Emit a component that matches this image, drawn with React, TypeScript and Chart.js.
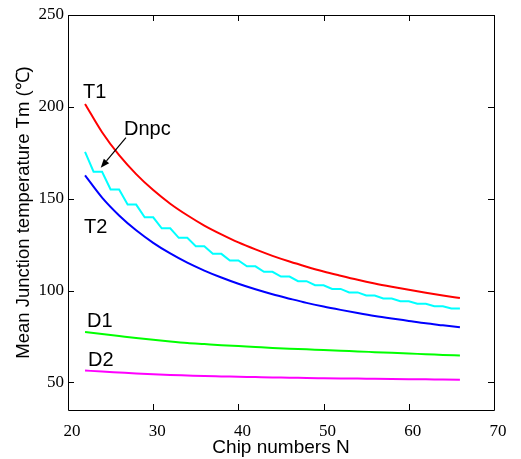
import { useEffect, useRef } from "react";
import { Chart, registerables } from "chart.js";

Chart.register(...registerables);

const WIDTH = 521;
const HEIGHT = 459;

// Chip counts used for the smooth curves
const chipsSmooth = [22, 24, 26, 28, 30, 32, 34, 36, 38, 40, 42, 44, 46, 48, 50, 52, 54, 56, 58, 60, 62, 64, 66];

const t1Temp = [201.6, 186.2, 173.7, 163.4, 154.7, 147.3, 141.0, 135.4, 130.6, 126.2, 122.4, 118.9, 115.8, 113.0, 110.4, 108.1, 105.9, 103.9, 102.1, 100.4, 98.8, 97.3, 95.9];
const t2Temp = [162.7, 150.6, 140.9, 132.8, 126.0, 120.2, 115.2, 110.9, 107.1, 103.7, 100.7, 98.0, 95.6, 93.3, 91.3, 89.5, 87.8, 86.2, 84.8, 83.5, 82.2, 81.1, 80.0];
const d1Temp = [77.5, 76.4, 75.3, 74.2, 73.2, 72.3, 71.5, 70.9, 70.3, 69.8, 69.3, 68.8, 68.4, 68.0, 67.6, 67.2, 66.9, 66.5, 66.1, 65.7, 65.4, 65.0, 64.7];
const d2Temp = [56.5, 55.9, 55.4, 54.9, 54.5, 54.1, 53.8, 53.5, 53.3, 53.1, 52.9, 52.7, 52.6, 52.4, 52.3, 52.2, 52.1, 52.0, 51.9, 51.8, 51.7, 51.6, 51.5];

// Dnpc is evaluated at every chip count (stepped curve)
const chipsAll = [22, 23, 24, 25, 26, 27, 28, 29, 30, 31, 32, 33, 34, 35, 36, 37, 38, 39, 40, 41, 42, 43, 44, 45, 46, 47, 48, 49, 50, 51, 52, 53, 54, 55, 56, 57, 58, 59, 60, 61, 62, 63, 64, 65, 66];
const dnpcTemp = [175.5, 164.7, 164.7, 155.0, 155.0, 146.8, 146.8, 139.9, 139.9, 133.9, 133.9, 128.7, 128.7, 124.1, 124.1, 120.0, 120.0, 116.4, 116.4, 113.2, 113.2, 110.2, 110.2, 107.6, 107.6, 105.1, 105.1, 102.9, 102.9, 100.9, 100.9, 99.0, 99.0, 97.3, 97.3, 95.7, 95.7, 94.2, 94.2, 92.8, 92.8, 91.5, 91.5, 90.2, 90.2];

const xTicks = [20, 30, 40, 50, 60, 70];
const yTicks = [50, 100, 150, 200, 250];

// Curve names placed next to the curves (data coordinates)
const curveLabels = [
  { text: "T1", n: 21.76, v: 207.6 },
  { text: "Dnpc", n: 26.57, v: 187.8 },
  { text: "T2", n: 21.88, v: 134.5 },
  { text: "D1", n: 22.23, v: 83.4 },
  { text: "D2", n: 22.35, v: 61.7 },
];
const arrowFrom = { n: 26.8, v: 183.2 };
const arrowTo = { n: 23.84, v: 166.8 };

const SANS = '"Liberation Sans", Arial, sans-serif';
const SERIF = '"Liberation Serif", "Times New Roman", serif';

const zip = (xs: number[], ys: number[]) => xs.map((x, i) => ({ x, y: ys[i] }));

export default function App() {
  const canvasRef = useRef<HTMLCanvasElement>(null);

  useEffect(() => {
    const canvas = canvasRef.current;
    if (!canvas) return;

    // Box around the plot with inward tick marks on all four sides
    const framePlugin = {
      id: "frame",
      afterDraw(chart: any) {
        const { ctx, chartArea, scales } = chart;
        const { left, right, top, bottom } = chartArea;
        const len = 6;
        ctx.save();
        ctx.strokeStyle = "#000";
        ctx.lineWidth = 1;
        ctx.beginPath();
        ctx.rect(Math.round(left) + 0.5, Math.round(top) + 0.5, Math.round(right - left), Math.round(bottom - top));
        for (const v of xTicks) {
          const px = Math.round(scales.x.getPixelForValue(v)) + 0.5;
          ctx.moveTo(px, bottom);
          ctx.lineTo(px, bottom - len);
          ctx.moveTo(px, top);
          ctx.lineTo(px, top + len);
        }
        for (const v of yTicks) {
          const py = Math.round(scales.y.getPixelForValue(v)) + 0.5;
          ctx.moveTo(left, py);
          ctx.lineTo(left + len, py);
          ctx.moveTo(right, py);
          ctx.lineTo(right - len, py);
        }
        ctx.stroke();
        ctx.restore();
      },
    };

    // Curve names and the arrow pointing at the Dnpc curve
    const notesPlugin = {
      id: "notes",
      afterDatasetsDraw(chart: any) {
        const { ctx, scales } = chart;
        const { x, y } = scales;
        ctx.save();
        ctx.fillStyle = "#000";
        ctx.strokeStyle = "#000";
        ctx.font = `20px ${SANS}`;
        ctx.textBaseline = "middle";
        ctx.textAlign = "left";
        for (const l of curveLabels) {
          ctx.fillText(l.text, x.getPixelForValue(l.n), y.getPixelForValue(l.v));
        }
        const x0 = x.getPixelForValue(arrowFrom.n);
        const y0 = y.getPixelForValue(arrowFrom.v);
        const x1 = x.getPixelForValue(arrowTo.n);
        const y1 = y.getPixelForValue(arrowTo.v);
        const ang = Math.atan2(y1 - y0, x1 - x0);
        const head = 9;
        const half = 3.5;
        const bx = x1 - head * Math.cos(ang);
        const by = y1 - head * Math.sin(ang);
        ctx.lineWidth = 1.2;
        ctx.beginPath();
        ctx.moveTo(x0, y0);
        ctx.lineTo(bx, by);
        ctx.stroke();
        ctx.beginPath();
        ctx.moveTo(x1, y1);
        ctx.lineTo(bx + half * Math.sin(ang), by - half * Math.cos(ang));
        ctx.lineTo(bx - half * Math.sin(ang), by + half * Math.cos(ang));
        ctx.closePath();
        ctx.fill();
        ctx.restore();
      },
    };

    const smooth = { tension: 0.4, cubicInterpolationMode: "monotone" as const };

    const chart = new Chart(canvas, {
      type: "line",
      data: {
        datasets: [
          { label: "T1", data: zip(chipsSmooth, t1Temp), borderColor: "#ff0000", ...smooth },
          { label: "Dnpc", data: zip(chipsAll, dnpcTemp), borderColor: "#00ffff", tension: 0 },
          { label: "T2", data: zip(chipsSmooth, t2Temp), borderColor: "#0000ff", ...smooth },
          { label: "D1", data: zip(chipsSmooth, d1Temp), borderColor: "#00ff00", ...smooth },
          { label: "D2", data: zip(chipsSmooth, d2Temp), borderColor: "#ff00ff", ...smooth },
        ],
      },
      options: {
        responsive: false,
        animation: false,
        devicePixelRatio: 1,
        layout: { padding: { top: 15, right: 27, left: 0, bottom: 0 } },
        elements: {
          point: { radius: 0, hoverRadius: 0 },
          line: { borderWidth: 2, fill: false },
        },
        plugins: {
          legend: { display: false },
          tooltip: { enabled: false },
        },
        scales: {
          x: {
            type: "linear",
            min: 20,
            max: 70,
            afterBuildTicks: (s: any) => {
              s.ticks = xTicks.map((value) => ({ value }));
            },
            afterFit: (s: any) => {
              s.height = 49;
            },
            grid: { display: false, drawTicks: false },
            border: { display: false },
            ticks: {
              color: "#000",
              padding: 11,
              labelOffset: 4,
              maxRotation: 0,
              font: { family: SERIF, size: 17 },
            },
            title: {
              display: true,
              text: "Chip numbers N",
              color: "#000",
              font: { family: SANS, size: 19 },
              padding: { top: 0, bottom: 0 },
            },
          },
          y: {
            type: "linear",
            min: 35,
            max: 250,
            afterBuildTicks: (s: any) => {
              s.ticks = yTicks.map((value) => ({ value }));
            },
            afterFit: (s: any) => {
              s.width = 68;
            },
            grid: { display: false, drawTicks: false },
            border: { display: false },
            ticks: {
              color: "#000",
              padding: 4,
              font: { family: SERIF, size: 17 },
            },
            title: {
              display: true,
              text: "Mean Junction temperature Tm (℃)",
              color: "#000",
              font: { family: SANS, size: 18.5 },
              padding: { top: 12.5, bottom: 0 },
            },
          },
        },
      },
      plugins: [framePlugin, notesPlugin],
    });

    return () => chart.destroy();
  }, []);

  return (
    <div style={{ position: "fixed", left: 0, top: 0, width: WIDTH, height: HEIGHT, background: "#fff" }}>
      <canvas ref={canvasRef} width={WIDTH} height={HEIGHT} style={{ width: WIDTH, height: HEIGHT, display: "block" }} />
    </div>
  );
}
